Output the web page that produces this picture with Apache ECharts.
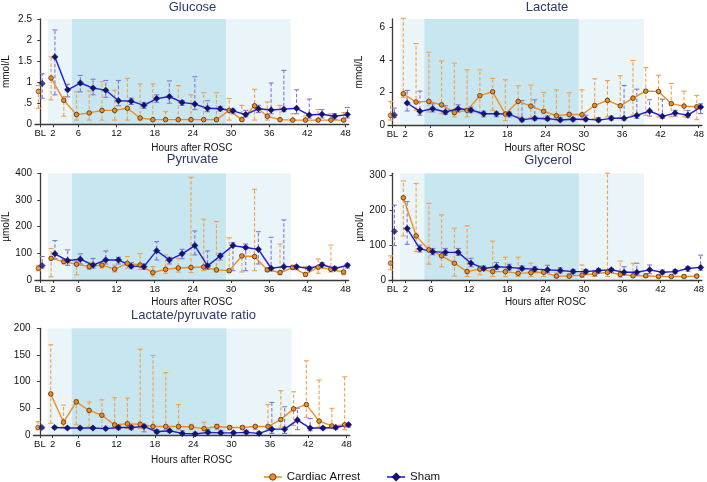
<!DOCTYPE html>
<html>
<head>
<meta charset="utf-8">
<script src="https://cdn.jsdelivr.net/npm/echarts@6/dist/echarts.min.js"></script>
<style>html,body{margin:0;padding:0;background:#fff}#c{width:707px;height:482px}</style>
</head>
<body>
<div id="c"></div>
<script>
// ---------- DATA ----------
const hours = [0,2,4,6,8,10,12,14,16,18,20,22,24,26,28,30,32,34,36,38,40,42,44,46,48];
const xTickValues = [0,2,6,12,18,24,30,36,42,48];
const bandLight = [1.2, 39.4];
const bandDark = [5, 29.2];

// Glucose (mmol/L)
const gluCA    = [0.78,1.10,0.57,0.23,0.27,0.33,0.33,0.38,0.15,0.11,0.11,0.11,0.11,0.11,0.11,0.33,0.11,0.44,0.19,0.11,0.10,0.10,0.10,0.10,0.10];
const gluCAHi  = [0.92,1.60,0.66,0.77,0.79,1.01,0.81,1.09,0.96,0.96,0.30,0.92,0.70,0.75,0.75,0.61,0.45,0.83,0.53,0.45,0.25,0.20,0.35,0.25,0.28];
const gluCALo  = [0.38,0.58,0.19,0.10,0.10,0.10,0.10,0.10,0.10,0.10,0.10,0.10,0.10,0.10,0.10,0.10,0.10,0.10,0.10,0.10,0.10,0.10,0.10,0.10,0.10];
const gluSh    = [0.97,1.60,0.82,0.98,0.86,0.81,0.56,0.55,0.45,0.61,0.66,0.52,0.48,0.38,0.37,0.32,0.23,0.37,0.34,0.36,0.38,0.22,0.24,0.19,0.23];
const gluShHi  = [1.20,2.24,0.95,1.16,1.07,1.04,1.04,0.62,0.52,0.70,1.03,0.56,1.13,0.56,0.42,0.36,0.33,0.45,0.98,1.28,0.82,0.60,0.35,0.25,0.40];
const gluShLo  = [0.62,0.70,0.65,0.77,0.70,0.64,0.44,0.47,0.38,0.52,0.50,0.45,0.35,0.30,0.32,0.25,0.18,0.28,0.25,0.30,0.25,0.15,0.15,0.12,0.15];

// Lactate (mmol/L)
const lacCA    = [0.59,1.92,1.41,1.45,1.24,0.76,0.90,1.80,2.04,0.67,1.45,1.16,0.84,0.57,0.65,0.63,1.20,1.51,1.18,1.65,2.08,2.06,1.31,1.16,1.12];
const lacCAHi  = [1.45,6.55,5.00,4.47,3.94,3.80,3.39,3.39,2.86,2.78,2.41,2.45,2.00,2.16,1.98,2.16,2.84,2.73,3.02,3.96,3.53,3.06,2.55,2.08,1.82];
const lacCALo  = [0.30,1.70,0.90,0.80,0.70,0.50,0.50,0.70,0.90,0.27,0.50,0.45,0.35,0.30,0.35,0.30,0.40,0.50,0.45,0.60,0.60,0.50,0.50,0.50,0.33];
const lacSh    = [0.61,1.35,0.84,1.00,0.80,1.00,0.92,0.69,0.69,0.67,0.33,0.41,0.39,0.31,0.35,0.36,0.30,0.41,0.41,0.59,0.86,0.53,0.73,0.61,1.10];
const lacShHi  = [1.04,2.12,2.08,1.30,1.18,1.24,1.10,0.85,0.80,0.80,1.50,1.55,0.55,0.45,0.45,0.60,0.45,0.55,2.43,2.20,1.55,1.59,0.90,0.90,1.30];
const lacShLo  = [0.45,0.86,0.60,0.80,0.65,0.80,0.75,0.50,0.50,0.50,0.20,0.30,0.28,0.22,0.25,0.25,0.20,0.30,0.30,0.40,0.55,0.40,0.55,0.45,0.70];

// Pyruvate (µmol/L)
const pyrCA    = [44,81,69,59,50,56,41,62,56,28,40,45,47,49,38,35,90,88,38,28,47,21,48,40,30];
const pyrCAHi  = [55,118,80,70,65,62,55,88,99,50,94,81,385,228,219,158,95,340,44,135,55,50,79,131,50];
const pyrCALo  = [35,12,60,19,40,45,30,45,40,15,25,30,28,35,30,28,30,35,32,20,40,15,25,30,20];
const pyrSh    = [54,98,73,78,56,75,75,52,50,110,75,98,129,53,90,129,122,115,44,50,50,43,57,43,55];
const pyrShHi  = [88,148,113,98,81,109,85,65,60,144,85,115,184,109,100,140,135,181,160,225,55,50,65,50,60];
const pyrShLo  = [45,80,55,60,45,60,60,45,40,75,60,80,94,40,75,35,35,60,35,35,40,35,45,35,45];

// Glycerol (µmol/L)
const glyCA    = [48,235,126,86,69,48,24,31,24,24,19,21,22,11,11,14,18,22,16,12,12,10,10,10,11];
const glyCAHi  = [69,283,276,219,186,148,155,40,111,65,65,48,30,20,18,43,25,305,54,48,18,14,14,14,16];
const glyCALo  = [29,126,81,45,38,11,10,15,10,10,10,10,10,8,8,8,10,10,8,8,8,7,7,7,8];
const glySh    = [139,147,89,81,79,79,48,33,38,36,33,31,29,27,24,24,27,29,22,22,29,22,24,33,36];
const glyShHi  = [214,224,100,90,90,90,62,40,50,45,40,38,42,35,30,30,32,33,38,48,43,28,30,38,71];
const glyShLo  = [98,102,80,72,70,70,38,28,30,28,28,25,22,20,18,18,20,22,15,15,18,17,18,25,28];

// Lactate/pyruvate ratio
const lpCA     = [14,77,24,62,46,37,19,21,20,16,16,16,15,12,16,14,14,16,16,29,49,57,26,17,19];
const lpCAHi   = [25,169,56,66,62,66,70,69,161,149,117,57,20,24,20,17,17,18,57,83,81,139,103,50,109];
const lpCALo   = [10,22,15,19,15,12,12,12,12,10,10,10,10,8,10,10,10,10,10,15,18,33,15,12,10];
const lpSh     = [14,14,13,13,13,12,14,14,16,6,8,3,2,5,4,4,5,3,11,11,28,13,13,14,19];
const lpShHi   = [15,16,15,15,15,14,18,18,20,10,10,8,5,10,8,6,8,6,61,53,50,31,16,18,22];
const lpShLo   = [12,12,11,11,11,10,10,10,6,3,5,1,1,2,2,2,2,1,3,3,10,8,10,11,15];

// ---------- LAYOUT / STYLE ----------
const panels = [
  {title:'Glucose', tx:192.5, ty:7.5, left:33.5, top:19, width:315.2, height:105.3, xMin:-0.83, yMax:2.5, yTicks:[0,0.5,1,1.5,2,2.5], yName:'mmol/L', nameGap:18.5,
   ca:[gluCA,gluCALo,gluCAHi], sh:[gluSh,gluShLo,gluShHi]},
  {title:'Lactate', tx:547, ty:7.5, left:388, top:19, width:318.3, height:106, xMin:-0.7, yMax:6.51, yTicks:[0,2,4,6], yName:'mmol/L', nameGap:18.5,
   ca:[lacCA,lacCALo,lacCAHi], sh:[lacSh,lacShLo,lacShHi]},
  {title:'Pyruvate', tx:192.5, ty:159, left:33.5, top:173.3, width:315.2, height:106.7, xMin:-0.83, yMax:400, yTicks:[0,100,200,300,400], yName:'\u00b5mol/L', nameGap:17,
   ca:[pyrCA,pyrCALo,pyrCAHi], sh:[pyrSh,pyrShLo,pyrShHi]},
  {title:'Glycerol', tx:548, ty:160, left:389, top:173.3, width:317.4, height:106.7, xMin:-0.55, yMax:304.8, yTicks:[0,100,200,300], yName:'\u00b5mol/L', nameGap:17,
   ca:[glyCA,glyCALo,glyCAHi], sh:[glySh,glyShLo,glyShHi]},
  {title:'Lactate/pyruvate ratio', tx:193.5, ty:315.5, left:33.5, top:328.3, width:316.3, height:106.7, xMin:-1.0, yMax:200, yTicks:[0,50,100,150,200], yName:'', nameGap:20.5,
   ca:[lpCA,lpCALo,lpCAHi], sh:[lpSh,lpShLo,lpShHi]}
];

const ORANGE = '#f28c1e', ORANGE_ERR = '#f2a048', ORANGE_EDGE = '#4a2c10';
const BLUE = '#1c1ce0', BLUE_ERR = '#8576d0', BLUE_FILL = '#141470';
const LIGHT = '#e9f5f9', DARK = '#c7e6f0';
const AXIS = '#3a3a3a';
const FONT = 'Liberation Sans, Arial, sans-serif';

const grids = [], xAxes = [], yAxes = [], series = [], graphics = [];

function errRender(color) {
  return function (params, api) {
    const x = api.value(0), lo = api.value(1), hi = api.value(2);
    const pLo = api.coord([x, lo]), pHi = api.coord([x, hi]);
    const w = 2.5;
    return {
      type: 'group',
      children: [
        {type:'line', shape:{x1:pLo[0], y1:pLo[1], x2:pHi[0], y2:pHi[1]}, style:{stroke:color, lineWidth:1.1, lineDash:[3.5,2]}},
        {type:'line', shape:{x1:pHi[0]-w, y1:pHi[1], x2:pHi[0]+w, y2:pHi[1]}, style:{stroke:color, lineWidth:1.1}},
        {type:'line', shape:{x1:pLo[0]-w, y1:pLo[1], x2:pLo[0]+w, y2:pLo[1]}, style:{stroke:color, lineWidth:1.1}}
      ]
    };
  };
}

function bandRender(params, api) {
  const cs = params.coordSys;
  const x1 = api.coord([api.value(0), 0])[0];
  const x2 = api.coord([api.value(1), 0])[0];
  return {type:'rect', shape:{x:x1, y:cs.y, width:x2-x1, height:cs.height},
          style:{fill: api.value(2) === 1 ? DARK : LIGHT}};
}

panels.forEach((p, i) => {
  grids.push({left:p.left, top:p.top, width:p.width, height:p.height, containLabel:false});
  xAxes.push({
    type:'value', gridIndex:i, min:p.xMin, max:48.5,
    name:'Hours after ROSC', nameLocation:'middle', nameGap:p.nameGap,
    nameTextStyle:{fontSize:10, color:'#111', fontFamily:FONT},
    axisLine:{onZero:false, lineStyle:{color:AXIS, width:1.3}},
    axisTick:{show:true, length:3, lineStyle:{color:AXIS, width:1}, customValues:xTickValues},
    axisLabel:{fontSize:9.5, color:'#111', margin:4, fontFamily:FONT, customValues:xTickValues,
               formatter: v => v === 0 ? 'BL' : String(v)},
    splitLine:{show:false}
  });
  yAxes.push({
    type:'value', gridIndex:i, min:0, max:p.yMax,
    name:p.yName, nameLocation:'middle', nameGap:24, nameRotate:90,
    nameTextStyle:{fontSize:10, color:'#111', fontFamily:FONT},
    axisLine:{show:true, lineStyle:{color:AXIS, width:1.3}},
    axisTick:{show:true, length:3, lineStyle:{color:AXIS, width:1}, customValues:p.yTicks},
    axisLabel:{fontSize:10, color:'#111', margin:3, fontFamily:FONT, customValues:p.yTicks,
               formatter: v => (v > 0 && v < 1) ? String(v).replace(/^0/, '') : String(v)},
    splitLine:{show:false}
  });
  graphics.push({type:'text', x:p.tx, y:p.ty,
    style:{text:p.title, fill:'#2c3a68', font:'13px ' + FONT, textAlign:'center', textVerticalAlign:'middle'}});

  // bands
  series.push({type:'custom', xAxisIndex:i, yAxisIndex:i, z:0, silent:true, renderItem:bandRender,
    data:[[bandLight[0], bandLight[1], 0], [bandDark[0], bandDark[1], 1]], clip:true});

  const groups = [
    {name:'Cardiac Arrest', d:p.ca, off:-0.3, line:ORANGE, err:ORANGE_ERR, symbol:'circle', size:4.6,
     item:{color:ORANGE, borderColor:ORANGE_EDGE, borderWidth:0.8}},
    {name:'Sham', d:p.sh, off:0.3, line:BLUE, err:BLUE_ERR, symbol:'diamond', size:6.5,
     item:{color:BLUE_FILL, borderColor:BLUE_FILL, borderWidth:0.4}}
  ];
  groups.forEach(g => {
    const [med, lo, hi] = g.d;
    series.push({type:'custom', xAxisIndex:i, yAxisIndex:i, z:2, silent:true, renderItem:errRender(g.err),
      data: med.map((v, k) => [hours[k] + g.off, lo[k], hi[k]]), clip:false});
  });
  groups.forEach(g => {
    const med = g.d[0];
    series.push({type:'line', name:g.name, xAxisIndex:i, yAxisIndex:i, z:4,
      data: med.slice(1).map((v, k) => [hours[k+1] + g.off, v]),
      symbol:g.symbol, symbolSize:g.size, showSymbol:true, animation:false,
      lineStyle:{color:g.line, width:1.4}, itemStyle:Object.assign({}, g.item)});
    series.push({type:'scatter', name:g.name + ' BL', xAxisIndex:i, yAxisIndex:i, z:4,
      data:[[hours[0] + g.off, med[0]]], symbol:g.symbol, symbolSize:g.size,
      itemStyle:Object.assign({}, g.item)});
  });
});

const chart = echarts.init(document.getElementById('c'), null, {renderer:'canvas'});
chart.setOption({
  animation:false,
  backgroundColor:'#ffffff',
  textStyle:{fontFamily:FONT},
  grid:grids, xAxis:xAxes, yAxis:yAxes,
  legend:{
    data:[
      {name:'Cardiac Arrest', itemStyle:{color:ORANGE, borderColor:ORANGE_EDGE, borderWidth:0.8}, lineStyle:{color:ORANGE, width:1.6}},
      {name:'Sham', itemStyle:{color:BLUE_FILL}, lineStyle:{color:BLUE, width:1.6}}
    ],
    left:258, top:466, itemWidth:18, itemHeight:8, itemGap:26,
    textStyle:{fontSize:11.5, color:'#111', fontFamily:FONT}
  },
  graphic:graphics,
  series:series
});
</script>
</body>
</html>
